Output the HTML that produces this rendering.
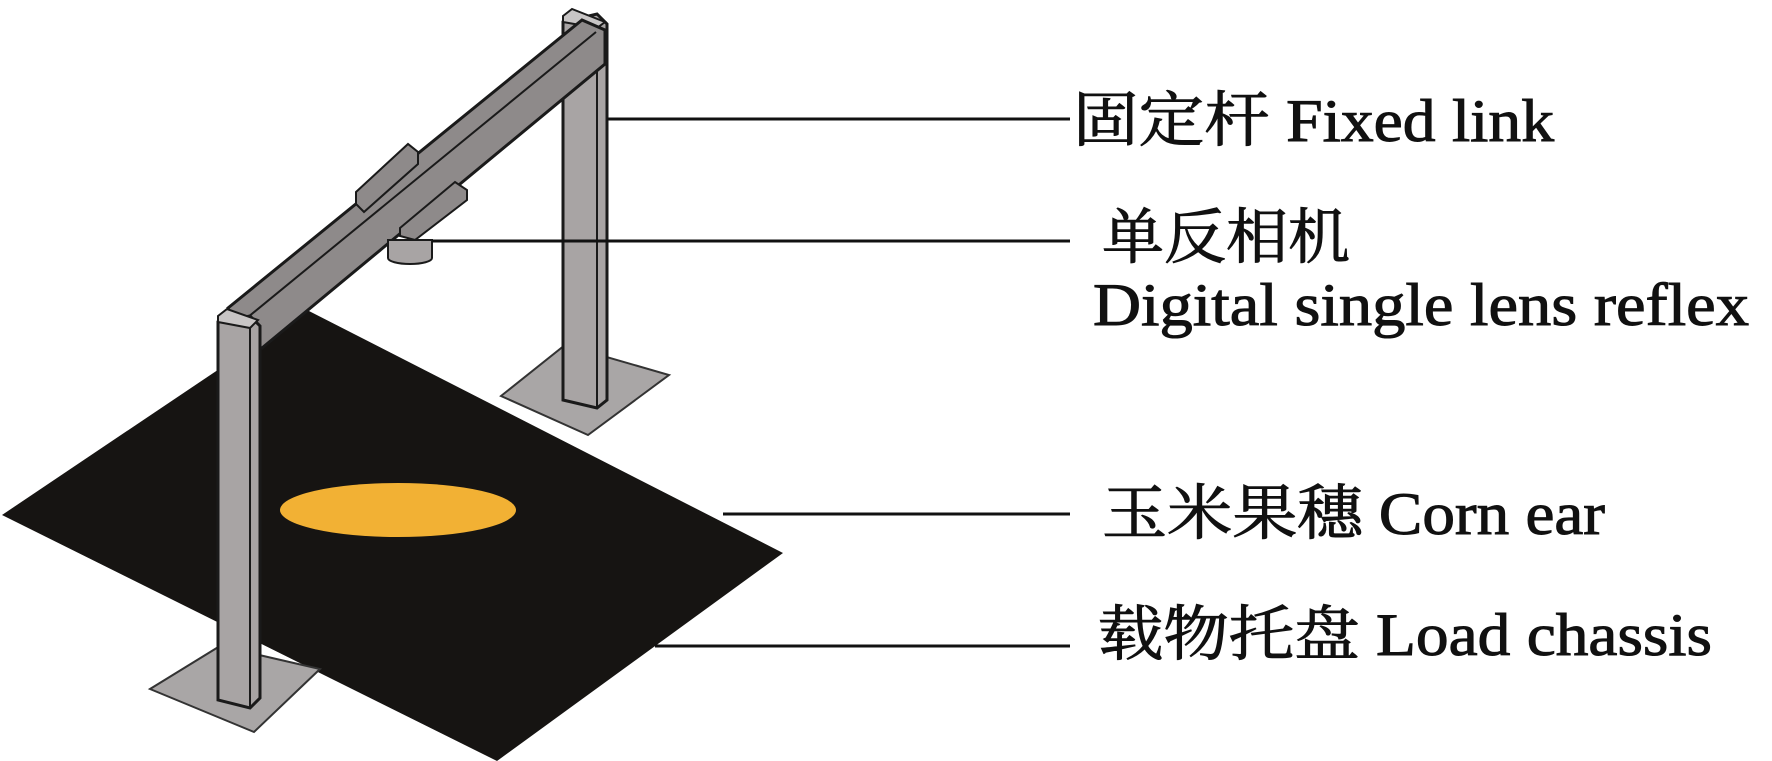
<!DOCTYPE html>
<html><head><meta charset="utf-8"><style>html,body{margin:0;padding:0;background:#fff}svg{display:block}</style></head>
<body>
<svg width="1772" height="761" viewBox="0 0 1772 761" xmlns="http://www.w3.org/2000/svg">
<!-- right base plate -->
<polygon points="501,396 565,345 669,375 588,435" fill="#a9a6a6" stroke="#333" stroke-width="2"/>
<!-- board -->
<polygon points="2,515 307,310 783,553 497,761" fill="#161412"/>
<!-- corn -->
<ellipse cx="398" cy="510" rx="118" ry="27" fill="#f2b134"/>
<!-- right post -->
<polygon points="563,22 597,14 607,24 607,400 597,408 563,400" fill="#a8a4a4" stroke="#1a1a1a" stroke-width="3"/>
<line x1="597" y1="24" x2="597" y2="408" stroke="#1a1a1a" stroke-width="2"/>
<polygon points="563,16 572,9 605,22 597,28 563,22" fill="#c8c5c5" stroke="#1a1a1a" stroke-width="2"/>
<!-- beam -->
<polygon points="228,308 582,20 605,30 605,64 262,348 240,340" fill="#8e8a8a" stroke="#1a1a1a" stroke-width="3"/>
<line x1="242" y1="322" x2="596" y2="32" stroke="#1a1a1a" stroke-width="2"/>
<!-- camera plates -->
<polygon points="356,192 408,144 418,152 418,164 364,212 356,204" fill="#8e8a8a" stroke="#1a1a1a" stroke-width="2"/>
<polygon points="400,228 455,182 467,190 467,200 415,240 400,236" fill="#8e8a8a" stroke="#1a1a1a" stroke-width="2"/>
<!-- camera cylinder -->
<path d="M388,240 L388,258 A22,6 0 0 0 432,258 L432,240 Z" fill="#a8a4a4" stroke="#1a1a1a" stroke-width="2"/>
<!-- left base -->
<polygon points="150,689 220,646 320,669 254,732" fill="#a9a6a6" stroke="#333" stroke-width="2"/>
<!-- left post -->
<polygon points="218,322 250,316 260,326 260,698 250,708 218,700" fill="#a8a4a4" stroke="#1a1a1a" stroke-width="3"/>
<line x1="250" y1="326" x2="250" y2="708" stroke="#1a1a1a" stroke-width="2"/>
<polygon points="218,316 227,309 258,320 250,328 218,322" fill="#c8c5c5" stroke="#1a1a1a" stroke-width="2"/>
<!-- leader lines -->
<g stroke="#111" stroke-width="3">
<line x1="607" y1="119" x2="1070" y2="119"/>
<line x1="432" y1="241" x2="1070" y2="241"/>
<line x1="723" y1="514" x2="1070" y2="514"/>
<line x1="655" y1="646" x2="1070" y2="646"/>
</g>
<g font-family="'Liberation Serif','Noto Serif CJK SC',serif" font-size="60" fill="#111" stroke="#111" stroke-width="1">
<text x="1073" y="141" textLength="481" lengthAdjust="spacingAndGlyphs">固定杆 Fixed link</text>
<text x="1102" y="258" textLength="248" lengthAdjust="spacingAndGlyphs">单反相机</text>
<text x="1093" y="325" textLength="656" lengthAdjust="spacingAndGlyphs">Digital single lens reflex</text>
<text x="1102" y="534" textLength="503" lengthAdjust="spacingAndGlyphs">玉米果穗 Corn ear</text>
<text x="1098" y="655" textLength="614" lengthAdjust="spacingAndGlyphs">载物托盘 Load chassis</text>
</g>
</svg>
</body></html>
